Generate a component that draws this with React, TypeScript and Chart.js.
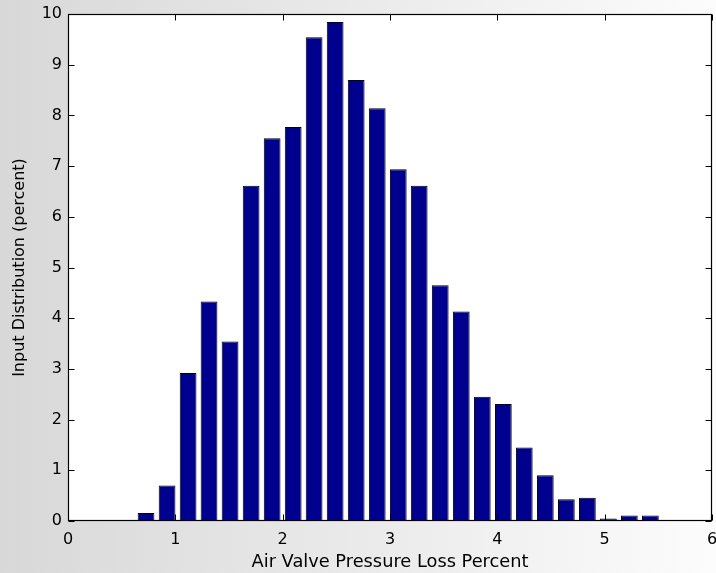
import React, { useEffect, useRef } from "react";
import { Chart, registerables } from "chart.js";

Chart.register(...registerables);

// Bin centres (x) of the histogram, in percent pressure loss
const binCenters = [
  0.727, 0.923, 1.119, 1.314, 1.51, 1.706, 1.902, 2.098, 2.293, 2.489, 2.685, 2.881, 3.077,
  3.272, 3.468, 3.664, 3.86, 4.056, 4.251, 4.447, 4.643, 4.839, 5.035, 5.23, 5.426,
];

// Input distribution (percent) for each bin
const distributionPercent = [
  0.16, 0.7, 2.92, 4.33, 3.54, 6.61, 7.55, 7.77, 9.54, 9.84, 8.7, 8.14, 6.94, 6.61, 4.65,
  4.13, 2.45, 2.31, 1.45, 0.9, 0.43, 0.46, 0.05, 0.11, 0.11,
];

const xTickValues = [0, 1, 2, 3, 4, 5, 6];
const yTickValues = [0, 1, 2, 3, 4, 5, 6, 7, 8, 9, 10];

const xAxisTitle = "Air Valve Pressure Loss Percent";
const yAxisTitle = "Input Distribution (percent)";

const FONT = "'DejaVu Sans', 'Liberation Sans', Arial, sans-serif";

const framePlugin = {
  id: "matlabFrame",
  beforeDraw(chart: any) {
    const { ctx, width, height, chartArea: a } = chart;
    ctx.save();
    const g = ctx.createLinearGradient(0, 0, width, 0);
    g.addColorStop(0, "#d8d8d8");
    g.addColorStop(1, "#fcfcfc");
    ctx.fillStyle = g;
    ctx.fillRect(0, 0, width, height);
    ctx.fillStyle = "#ffffff";
    ctx.fillRect(a.left, a.top, a.right - a.left, a.bottom - a.top);
    ctx.restore();
  },
  afterDatasetsDraw(chart: any) {
    const { ctx, chartArea: a, scales } = chart;
    const xs = scales.x;
    const ys = scales.y;
    const L = Math.round(a.left) + 0.5;
    const R = Math.round(a.right) - 0.5;
    const T = Math.round(a.top) + 0.5;
    const B = Math.round(a.bottom) - 0.5;
    const tl = 6;
    ctx.save();
    ctx.strokeStyle = "#000000";
    ctx.lineWidth = 1;
    ctx.beginPath();
    xTickValues.forEach((v) => {
      const px = Math.round(xs.getPixelForValue(v)) + 0.5;
      ctx.moveTo(px, B);
      ctx.lineTo(px, B - tl);
      ctx.moveTo(px, T);
      ctx.lineTo(px, T + tl);
    });
    yTickValues.forEach((v) => {
      const py = Math.round(ys.getPixelForValue(v)) + 0.5;
      ctx.moveTo(L, py);
      ctx.lineTo(L + tl, py);
      ctx.moveTo(R, py);
      ctx.lineTo(R - tl, py);
    });
    ctx.stroke();
    ctx.lineWidth = 1.2;
    ctx.strokeRect(L, T, R - L, B - T);
    ctx.restore();
  },
};

export default function App() {
  const canvasRef = useRef<HTMLCanvasElement | null>(null);

  useEffect(() => {
    document.body.style.margin = "0";
    const canvas = canvasRef.current;
    if (!canvas) return;
    Chart.defaults.font.family = FONT;
    Chart.defaults.color = "#000000";

    const chart = new Chart(canvas, {
      type: "bar",
      data: {
        datasets: [
          {
            data: binCenters.map((x, i) => ({ x, y: distributionPercent[i] })),
            backgroundColor: "#00008f",
            borderColor: "#000000",
            borderWidth: 1,
            borderSkipped: false,
            barPercentage: 0.8,
            categoryPercentage: 1.0,
          },
        ],
      },
      options: {
        animation: false,
        responsive: false,
        maintainAspectRatio: false,
        events: [],
        layout: { padding: { top: 14, right: 4, left: 0, bottom: 0 } },
        plugins: {
          legend: { display: false },
          tooltip: { enabled: false },
        },
        scales: {
          x: {
            type: "linear",
            min: 0,
            max: 6,
            offset: false,
            grid: { display: false, drawTicks: false },
            border: { display: false },
            ticks: {
              stepSize: 1,
              padding: 9,
              maxRotation: 0,
              font: { size: 16, family: FONT },
              color: "#000000",
            },
            title: {
              display: true,
              text: xAxisTitle,
              font: { size: 17.8, family: FONT },
              color: "#000000",
              padding: { top: 0, bottom: 0 },
            },
            afterFit(s: any) {
              s.height = 52;
              s.paddingLeft = 0;
              s.paddingRight = 0;
            },
          },
          y: {
            type: "linear",
            min: 0,
            max: 10,
            grid: { display: false, drawTicks: false },
            border: { display: false },
            ticks: {
              stepSize: 1,
              padding: 6,
              font: { size: 16, family: FONT },
              color: "#000000",
            },
            title: {
              display: true,
              text: yAxisTitle,
              font: { size: 16, family: FONT },
              color: "#000000",
              padding: { top: 10, bottom: 0 },
            },
            afterFit(s: any) {
              s.width = 68;
              s.paddingTop = 0;
              s.paddingBottom = 0;
            },
          },
        },
      },
      plugins: [framePlugin],
    } as any);

    return () => chart.destroy();
  }, []);

  return (
    <div style={{ width: 716, height: 573, position: "relative" }}>
      <canvas ref={canvasRef} width={716} height={573} style={{ display: "block", width: 716, height: 573 }} />
    </div>
  );
}
